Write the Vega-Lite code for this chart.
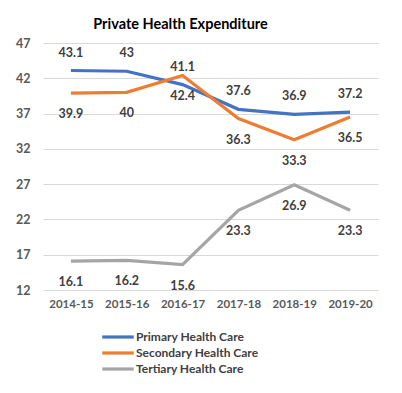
{
  "$schema": "https://vega.github.io/schema/vega-lite/v6.json",
  "width": 335,
  "height": 247,
  "autosize": "none",
  "padding": {"left": 43, "top": 43, "right": 24, "bottom": 103},
  "background": "white",
  "config": {
    "font": "Lato",
    "view": {"stroke": null}
  },
  "title": {
    "text": "Private Health Expenditure",
    "fontSize": 14.5,
    "fontWeight": "bold",
    "color": "#000000",
    "anchor": "middle",
    "dx": -30,
    "offset": 5
  },
  "data": {
    "values": [
      {"year": "2014-15", "series": "Primary Health Care", "value": 43.1},
      {"year": "2015-16", "series": "Primary Health Care", "value": 43.0},
      {"year": "2016-17", "series": "Primary Health Care", "value": 41.1},
      {"year": "2017-18", "series": "Primary Health Care", "value": 37.6},
      {"year": "2018-19", "series": "Primary Health Care", "value": 36.9},
      {"year": "2019-20", "series": "Primary Health Care", "value": 37.2},
      {"year": "2014-15", "series": "Secondary Health Care", "value": 39.9},
      {"year": "2015-16", "series": "Secondary Health Care", "value": 40.0},
      {"year": "2016-17", "series": "Secondary Health Care", "value": 42.4},
      {"year": "2017-18", "series": "Secondary Health Care", "value": 36.3},
      {"year": "2018-19", "series": "Secondary Health Care", "value": 33.3},
      {"year": "2019-20", "series": "Secondary Health Care", "value": 36.5},
      {"year": "2014-15", "series": "Tertiary Health Care", "value": 16.1},
      {"year": "2015-16", "series": "Tertiary Health Care", "value": 16.2},
      {"year": "2016-17", "series": "Tertiary Health Care", "value": 15.6},
      {"year": "2017-18", "series": "Tertiary Health Care", "value": 23.3},
      {"year": "2018-19", "series": "Tertiary Health Care", "value": 26.9},
      {"year": "2019-20", "series": "Tertiary Health Care", "value": 23.3}
    ]
  },
  "encoding": {
    "x": {
      "field": "year",
      "type": "ordinal",
      "scale": {"type": "point", "padding": 0.5},
      "axis": {
        "title": null,
        "labelAngle": 0,
        "labelFontWeight": "bold",
        "labelFontSize": 11.5,
        "labelColor": "#595959",
        "labelPadding": 8,
        "ticks": false,
        "domain": false,
        "grid": false
      }
    },
    "y": {
      "field": "value",
      "type": "quantitative",
      "scale": {"domain": [12, 47], "nice": false, "zero": false},
      "axis": {
        "title": null,
        "values": [12, 17, 22, 27, 32, 37, 42, 47],
        "labelFontWeight": "bold",
        "labelFontSize": 12.5,
        "labelColor": "#595959",
        "labelPadding": 13,
        "ticks": false,
        "domain": false,
        "gridColor": "#d9d9d9",
        "gridWidth": 1
      }
    }
  },
  "layer": [
    {
      "mark": {"type": "line", "strokeWidth": 3.2},
      "encoding": {
        "color": {
          "field": "series",
          "type": "nominal",
          "scale": {
            "domain": ["Primary Health Care", "Secondary Health Care", "Tertiary Health Care"],
            "range": ["#4472C4", "#ED7D31", "#A5A5A5"]
          },
          "legend": {
            "title": null,
            "orient": "none",
            "legendX": 68,
            "legendY": 287,
            "direction": "vertical",
            "symbolType": "M-3,0H3",
            "symbolStrokeWidth": 3.2,
            "symbolSize": 110,
            "labelFontSize": 12,
            "labelFontWeight": "bold",
            "labelColor": "#404040",
            "labelOffset": 11,
            "rowPadding": 2
          }
        }
      }
    },
    {
      "transform": [{"filter": "datum.series === 'Primary Health Care'"}],
      "mark": {"type": "text", "dy": -18, "fontSize": 12.5, "fontWeight": "bold", "color": "#404040"},
      "encoding": {"text": {"field": "value", "type": "quantitative"}}
    },
    {
      "transform": [{"filter": "datum.series !== 'Primary Health Care'"}],
      "mark": {"type": "text", "dy": 21, "fontSize": 12.5, "fontWeight": "bold", "color": "#404040"},
      "encoding": {"text": {"field": "value", "type": "quantitative"}}
    }
  ]
}
